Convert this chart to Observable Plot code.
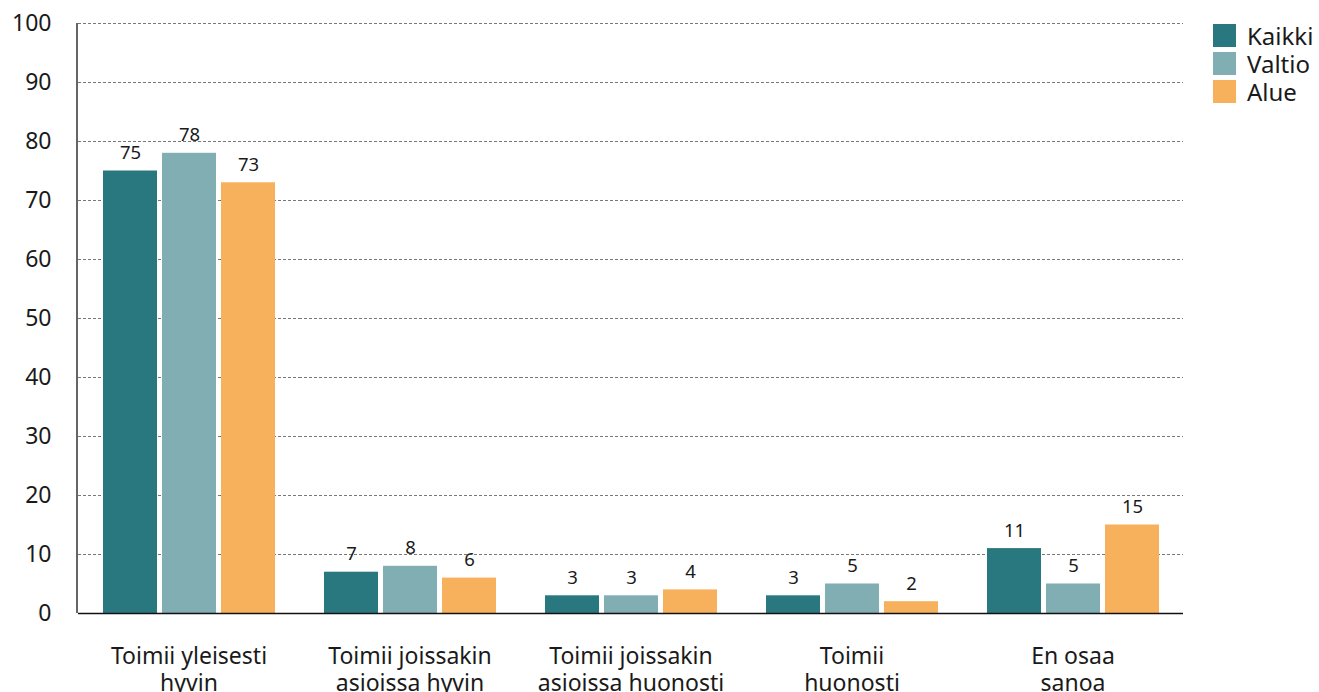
<!DOCTYPE html>
<html>
<head>
<meta charset="utf-8">
<script src="https://cdn.jsdelivr.net/npm/d3@7"></script>
<script src="https://cdn.jsdelivr.net/npm/@observablehq/plot@0.6"></script>
<style>
  body { margin: 0; background: #fff; font-family: "Noto Sans", sans-serif; }
  #wrap { position: relative; width: 1319px; height: 692px; overflow: hidden; }
  #legend { position: absolute; left: 1213px; top: 21px; font-size: 24px; color: #1a1a1a; }
  .li { display: flex; align-items: center; height: 28px; }
  .sw { width: 23px; height: 23px; margin-right: 11px; flex: none; }
</style>
</head>
<body>
<div id="wrap"><div id="legend"></div></div>
<script>
const categories = ["Toimii yleisesti\nhyvin", "Toimii joissakin\nasioissa hyvin", "Toimii joissakin\nasioissa huonosti", "Toimii\nhuonosti", "En osaa\nsanoa"];
const series = ["Kaikki", "Valtio", "Alue"];
const kaikki = [75, 7, 3, 3, 11];
const valtio = [78, 8, 3, 5, 5];
const alue = [73, 6, 4, 2, 15];
const colors = ["#297880", "#80aeb3", "#f7b05b"];
const yTicks = [0, 10, 20, 30, 40, 50, 60, 70, 80, 90, 100];

const values = [kaikki, valtio, alue];
const data = [];
categories.forEach((c, i) => series.forEach((s, j) => data.push({cat: c, series: s, value: values[j][i]})));

const marginLeft = 77, marginTop = 23;
const plot = Plot.plot({
  width: 1319, height: 692,
  marginLeft, marginRight: 136, marginTop, marginBottom: 79,
  style: {fontFamily: "Noto Sans", fontSize: "21px", color: "#1a1a1a", background: "#fff"},
  fx: {domain: categories, padding: 0, label: null},
  x: {domain: series, paddingInner: 5 / 59, paddingOuter: 0.41, axis: null},
  y: {domain: [0, 100], label: null},
  color: {domain: series, range: colors},
  marks: [
    Plot.gridY(yTicks.slice(1), {stroke: "#555", strokeOpacity: 1, strokeDasharray: "3,2", strokeWidth: 0.8}),
    Plot.axisY(yTicks, {tickSize: 0, tickPadding: 27, fontSize: 23, label: null}),
    Plot.axisFx({anchor: "bottom", tickSize: 0, tickPadding: 32, fontSize: 23, lineHeight: 1.15, label: null}),
    Plot.barY(data, {fx: "cat", x: "series", y: "value", fill: "series"}),
    Plot.text(data, {fx: "cat", x: "series", y: "value", text: d => String(d.value), dy: -12, lineAnchor: "bottom", fontSize: 18.5, fill: "#1a1a1a"}),
    Plot.ruleY([0], {stroke: "#111", strokeWidth: 1.5})
  ]
});

const ys = plot.scale("y");
d3.select(plot).append("line")
  .attr("x1", marginLeft).attr("x2", marginLeft)
  .attr("y1", ys.apply(100)).attr("y2", ys.apply(0))
  .attr("stroke", "#333").attr("stroke-width", 1.5);

document.getElementById("wrap").prepend(plot);

const legend = d3.select("#legend");
series.forEach((s, i) => {
  const row = legend.append("div").attr("class", "li");
  row.append("div").attr("class", "sw").style("background", colors[i]);
  row.append("span").text(s);
});
</script>
</body>
</html>
